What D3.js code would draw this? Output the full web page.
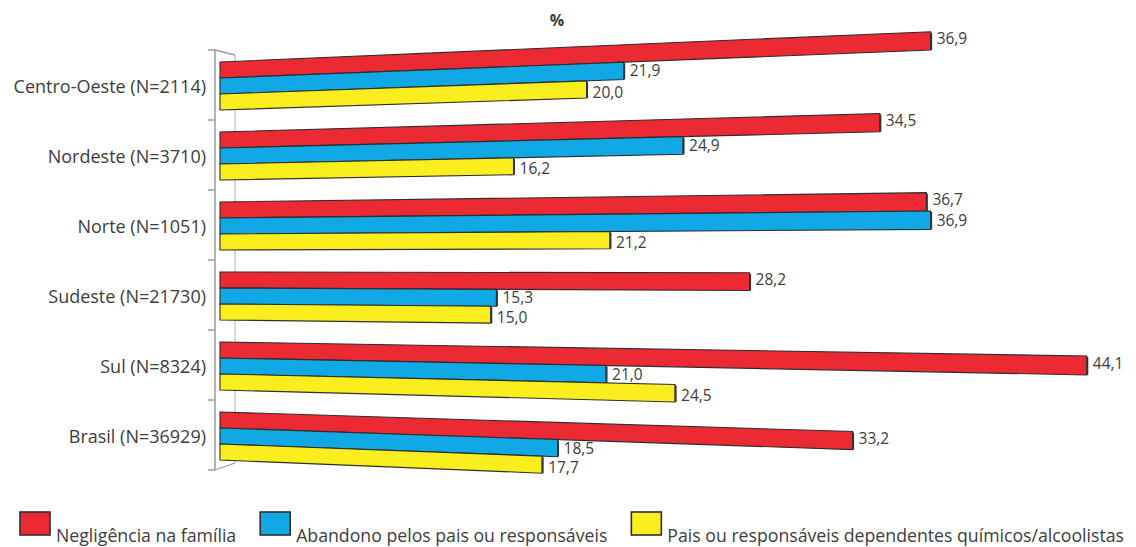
<!DOCTYPE html>
<html>
<head>
<meta charset="utf-8">
<script src="https://d3js.org/d3.v7.min.js"></script>
<style>
  body { margin: 0; background: #fff; }
  text { font-family: "Open Sans", sans-serif; fill: #3c3c3c; }
</style>
</head>
<body>
<div id="chart"></div>
<script>
  // data
  var regions = ["Centro-Oeste (N=2114)", "Nordeste (N=3710)", "Norte (N=1051)",
                 "Sudeste (N=21730)", "Sul (N=8324)", "Brasil (N=36929)"];
  var series = ["Negligência na família", "Abandono pelos pais ou responsáveis",
                "Pais ou responsáveis dependentes químicos/alcoolistas"];
  var negligencia = [36.9, 34.5, 36.7, 28.2, 44.1, 33.2];
  var abandono    = [21.9, 24.9, 36.9, 15.3, 21.0, 18.5];
  var dependentes = [20.0, 16.2, 21.2, 15.0, 24.5, 17.7];
  var colors = ["#ec2a33", "#10a9e5", "#fbee1e"];

  var width = 1136, height = 547;
  var x0 = 220;        // left edge of bars
  var yc = 265, k = 0.00021;  // the original is a slightly tilted photo

  var svg = d3.select("#chart").append("svg")
      .attr("width", width)
      .attr("height", height);

  var x = d3.scaleLinear().domain([0, 50]).range([0, 900]);
  var y = d3.scaleBand().domain(regions).range([50, 470]);
  var ySub = d3.scaleBand().domain(series).range([12, 60]);

  // perspective warp of flat coords
  function wx(u) { return u * (0.957 + 0.00017 * u); }
  function warp(u, yy) {
    var gx = wx(u);
    return [x0 + gx, yc + (yy - yc) * (1 + k * gx)];
  }

  var rows = [];
  regions.forEach(function(r, i) {
    [negligencia, abandono, dependentes].forEach(function(arr, j) {
      rows.push({region: r, s: series[j], j: j, value: arr[i]});
    });
  });

  // axis (bracket-like)
  var ax = svg.append("g").attr("stroke", "#9a9a9a").attr("fill", "none");
  ax.append("line").attr("x1", 235).attr("x2", 235).attr("y1", 55).attr("y2", 463).attr("stroke", "#b0b0b0");
  ax.append("line").attr("x1", 215).attr("x2", 215).attr("y1", 50).attr("y2", 470).attr("stroke-width", 1.5);
  ax.append("line").attr("x1", 215).attr("x2", 235).attr("y1", 50).attr("y2", 55).attr("stroke-width", 1.3);
  ax.append("line").attr("x1", 215).attr("x2", 235).attr("y1", 470).attr("y2", 463).attr("stroke-width", 1.3);
  var tickYs = regions.map(function(r) { return y(r); }).concat([y.range()[1]]);
  ax.selectAll(".tk").data(tickYs).enter().append("line")
      .attr("x1", 208).attr("x2", 215)
      .attr("y1", function(d) { return d; }).attr("y2", function(d) { return d; })
      .attr("stroke-width", 1.5);

  // bars
  svg.selectAll(".bar").data(rows).enter().append("polygon")
      .attr("class", "bar")
      .attr("fill", function(d) { return colors[d.j]; })
      .attr("stroke", "#2e2e2e")
      .attr("stroke-width", 1.1)
      .attr("points", function(d) {
        var t = y(d.region) + ySub(d.s), b = t + ySub.bandwidth(), u = x(d.value);
        return [warp(0, t), warp(u, t), warp(u, b), warp(0, b)].map(function(p) { return p.join(","); }).join(" ");
      });

  // dark right end of each bar
  svg.selectAll(".end").data(rows).enter().append("line")
      .attr("stroke", "#333").attr("stroke-width", 2)
      .attr("x1", function(d) { return warp(x(d.value), 0)[0] + 0.5; })
      .attr("x2", function(d) { return warp(x(d.value), 0)[0] + 0.5; })
      .attr("y1", function(d) { return warp(x(d.value), y(d.region) + ySub(d.s))[1] + 1; })
      .attr("y2", function(d) { return warp(x(d.value), y(d.region) + ySub(d.s) + ySub.bandwidth())[1]; });

  // value labels (spread a little so they don't collide)
  svg.selectAll(".val").data(rows).enter().append("text")
      .attr("x", function(d) { return warp(x(d.value), 0)[0] + 6; })
      .attr("y", function(d) { return warp(x(d.value), y(d.region) + ySub(d.s) + ySub.bandwidth() / 2)[1] + (d.j - 1) * 2.5; })
      .attr("dy", "0.36em")
      .style("font-size", "15.5px")
      .text(function(d) { return d.value.toFixed(1).replace(".", ","); });

  // category labels
  svg.selectAll(".cat").data(regions).enter().append("text")
      .attr("x", 206)
      .attr("y", function(d) { return y(d) + 37; })
      .attr("dy", "0.35em")
      .attr("text-anchor", "end")
      .style("font-size", "18px")
      .text(function(d) { return d; });

  svg.append("text").attr("x", 557).attr("y", 26)
      .attr("text-anchor", "middle")
      .style("font-size", "16px").style("font-weight", "bold")
      .text("%");

  // legend
  var lx = 20;
  series.forEach(function(s, j) {
    svg.append("rect").attr("x", lx).attr("y", 512).attr("width", 30).attr("height", 23)
        .attr("fill", colors[j]).attr("stroke", "#2e2e2e").attr("stroke-width", 1.6);
    var t = svg.append("text").attr("x", lx + 36).attr("y", 542)
        .style("font-size", "17.7px").text(s);
    lx = lx + 36 + t.node().getComputedTextLength() + 24;
  });
</script>
</body>
</html>
